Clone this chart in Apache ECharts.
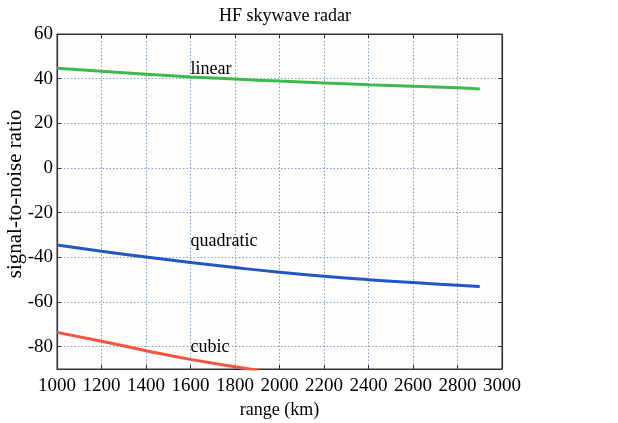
<!DOCTYPE html>
<html><head><meta charset="utf-8">
<script src="https://cdn.jsdelivr.net/npm/echarts@6/dist/echarts.min.js"></script>
<style>html,body{margin:0;padding:0;background:#fff}#c{width:618px;height:423px}</style>
</head><body><div id="c"></div>
<script>
var xValues = [1000,1200,1400,1600,1800,2000,2200,2400,2600,2800,2900];
var linear = [44.7,43.3,42.0,40.8,39.8,38.9,38.1,37.3,36.6,35.9,35.4];
var quadratic = [-34.5,-37.3,-39.9,-42.3,-44.6,-46.7,-48.5,-50.0,-51.3,-52.5,-53.1];
var cubicX = [1000,1200,1400,1600,1800,1900];
var cubic = [-73.6,-77.6,-81.8,-85.7,-89.0,-90.6];
var xTicks = [1000,1200,1400,1600,1800,2000,2200,2400,2600,2800,3000];
var yTicks = [-80,-60,-40,-20,0,20,40,60];
var labelNames = ['linear','quadratic','cubic'];
var labelX = [1600,1600,1600];
var labelY = [44.4,-32.8,-80.3];

function pairs(xs, ys){ return xs.map(function(x,i){ return [x, ys[i]]; }); }

var font = "'Liberation Serif','DejaVu Serif',serif";
var gridLine = {show:true, lineStyle:{color:'#7d9fc0', type:[1.5,2], width:1}};
var chart = echarts.init(document.getElementById('c'));
var xBase = {type:'value', min:1000, max:3000, interval:200,
  axisLine:{show:true, onZero:false, lineStyle:{color:'#333', width:1.2}},
  axisTick:{show:true, inside:true, length:4, lineStyle:{color:'#333'}}};
var yBase = {type:'value', min:-90, max:60,
  axisLine:{show:true, onZero:false, lineStyle:{color:'#333', width:1.2}},
  axisTick:{show:true, inside:true, length:4, customValues:yTicks, lineStyle:{color:'#333'}}};
chart.setOption({
  animation:false,
  title:{text:'HF skywave radar', left:280, top:2, textAlign:'center',
    textStyle:{fontFamily:font, fontSize:18, fontWeight:'normal', color:'#000'}},
  grid:{left:57, right:116, top:34, bottom:54, outerBoundsMode:'none', containLabel:false,
    show:true, backgroundColor:'#fffdfb', borderColor:'#333', borderWidth:1},
  xAxis:[
    Object.assign({}, xBase, {position:'bottom', name:'range (km)', nameLocation:'middle', nameGap:31,
      nameTextStyle:{fontFamily:font, fontSize:18, color:'#000'},
      axisLabel:{fontFamily:font, fontSize:19, color:'#000', margin:8, formatter:function(v){return String(v);}},
      splitLine:gridLine}),
    Object.assign({}, xBase, {position:'top', axisLabel:{show:false}, splitLine:{show:false}})
  ],
  yAxis:[
    Object.assign({}, yBase, {position:'left', name:'signal-to-noise ratio', nameLocation:'middle', nameGap:31,
      nameMoveOverlap:false,
      nameTextStyle:{fontFamily:font, fontSize:21, color:'#000', padding:[0,0,0,15]},
      axisLabel:{fontFamily:font, fontSize:19, color:'#000', margin:4, customValues:yTicks},
      splitLine:gridLine}),
    Object.assign({}, yBase, {position:'right', axisLabel:{show:false, customValues:yTicks}, splitLine:{show:false}})
  ],
  series:[
    {type:'line', data:pairs(xValues, linear), showSymbol:false, smooth:true, lineStyle:{color:'#3dba4e', width:3}, z:3},
    {type:'line', data:pairs(xValues, quadratic), showSymbol:false, smooth:true, lineStyle:{color:'#1f57c4', width:3}, z:3},
    {type:'line', data:pairs(cubicX, cubic), showSymbol:false, smooth:true, lineStyle:{color:'#f2553f', width:3}, z:3},
    {type:'scatter', symbolSize:0, z:5, itemStyle:{opacity:1},
      data:labelNames.map(function(n,i){ return {value:[labelX[i], labelY[i]], name:n}; }),
      label:{show:true, position:'right', distance:0, formatter:'{b}', fontFamily:font, fontSize:18, color:'#000', opacity:1}}
  ]
});
</script></body></html>
